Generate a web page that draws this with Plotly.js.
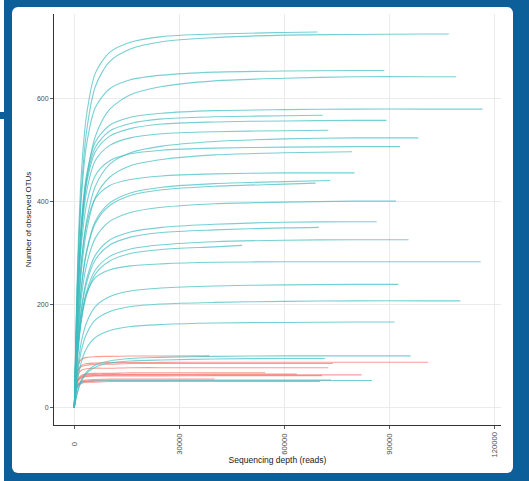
<!DOCTYPE html>
<html>
<head>
<meta charset="utf-8">
<script src="https://cdn.plot.ly/plotly-3.0.1.min.js"></script>
<style>
  html, body { margin: 0; padding: 0; width: 529px; height: 481px; overflow: hidden; background: #ffffff; }
  #frame { position: absolute; left: 4px; top: 0; width: 525px; height: 481px; background: #0d5f9a; }
  #inner { position: absolute; left: 12px; top: 7px; width: 501px; height: 466px; background: #ffffff; border-radius: 6px; }
  #stub { position: absolute; left: 0; top: 112px; width: 5px; height: 7px; background: #0d5f9a; }
  #chart { position: absolute; left: 0; top: 0; width: 529px; height: 481px; }
</style>
</head>
<body>
<div id="frame"></div>
<div id="inner"></div>
<div id="stub"></div>
<div id="chart"></div>
<script>
// Sequencing depths at which each rarefaction curve was read
const depthGrid = [0, 500, 1000, 2000, 3500, 6000, 10000, 16000, 25000, 40000, 60000, 80000, 100000];

// Teal group: maximum depth of each sample (reads)
const tealEnds = [69400, 106900, 88500, 109000, 116500, 70900, 89100, 72500, 98200, 93000,
                  79300, 80000, 73000, 68900, 91800, 86300, 69800, 95400, 47900, 116000,
                  92500, 110200, 91400, 96000, 71500, 85000];
// Teal group: observed OTUs at depthGrid points below the end, last value at the end depth
const tealOTUs = [
  [0,161,292,453,569,650,690,710,721,726,729,730],
  [0,145,269,421,537,624,672,697,711,719,724,725,726,726],
  [0,144,262,406,511,583,619,637,646,652,654,655,655],
  [0,116,212,341,444,527,579,608,624,635,640,643,643,643],
  [0,128,232,360,452,516,548,564,572,577,579,580,580,580],
  [0,125,227,352,443,506,537,552,561,565,567,568],
  [0,123,223,346,435,497,527,542,551,555,557,558,558],
  [0,119,216,334,420,480,509,524,532,536,538,539],
  [0,94,173,278,362,430,472,495,508,517,522,524,524],
  [0,112,203,314,395,451,479,493,500,504,506,507,507],
  [0,89,164,263,343,408,447,470,482,491,495,497],
  [0,100,182,283,356,406,431,443,450,454,456,456],
  [0,79,146,234,304,362,397,417,428,435,439,441],
  [0,78,144,231,301,358,392,412,423,430,434,436],
  [0,72,132,213,277,329,361,379,389,396,399,401,401],
  [0,65,119,191,249,296,325,341,350,356,360,361,361],
  [0,63,116,186,242,287,315,331,340,345,349,350],
  [0,59,108,173,225,267,293,308,316,322,325,326,326],
  [0,57,104,167,218,259,284,299,307,312,315],
  [0,62,113,175,221,252,267,275,279,282,283,283,283,283],
  [0,43,79,127,165,196,215,226,232,236,238,239,239],
  [0,37,68,110,143,170,186,196,201,204,206,207,207,207],
  [0,30,55,88,115,136,149,157,161,164,165,166,166],
  [0,18,33,53,69,82,90,95,97,99,100,100,100],
  [0,17,31,50,66,78,86,90,92,94,95,95],
  [0,32,43,48,50,51,52,52,52,52,52,52,52]
];

// Red group
const redEnds = [38600, 101000, 73800, 72500, 54500, 63500, 70700, 82000, 40000, 73300, 70100];
const redOTUs = [
  [0,62,82,93,97,98.5,99,99.6,99.8,100],
  [0,54,72,81,85,86,87,87,87.3,87.5,87.5,87.5,87.5,87.5],
  [0,53,70,79,82,84,84,85,85,85,85,85],
  [0,48,63,72,75,76,76,77,77,77,77,77],
  [0,42,55,62,65,66,66,67,67,67,67],
  [0,40,53,60,63,64,64,64,64,64.5,64.5,64.5],
  [0,38,50,57,60,61,61,61,61,61.5,61.5,61.5],
  [0,39,52,59,61,62,62.5,63,63,63,63,63,63],
  [0,34,45,51,53,54,55,55,55,55],
  [0,33,43,49,51,52,53,53,53,53,53,53],
  [0,31,41,46,48.5,49,50,50,50,50,50,50]
];

const xTickVals = [0, 30000, 60000, 90000, 120000];
const xTickText = ['0\u2007\u2007\u2009', '30000\u2009', '60000\u2009', '90000\u2009', '120000'];
const yTickVals = [0, 200, 400, 600];
const yTickText = ['0', '200', '400', '600'];

function curve(vals, end, color, op) {
  const n = vals.length - 1;
  return {
    type: 'scatter', mode: 'lines',
    x: depthGrid.slice(0, n).concat([end]),
    y: vals,
    line: { color: color, width: 1.1, shape: 'spline', smoothing: 0.8 },
    opacity: op,
    hoverinfo: 'skip', showlegend: false
  };
}

const traces = [];
redOTUs.forEach((v, i) => traces.push(curve(v, redEnds[i], '#F8766D', 0.72)));
tealOTUs.forEach((v, i) => traces.push(curve(v, tealEnds[i], '#3dbcc0', 0.7)));

const layout = {
  width: 529, height: 481,
  margin: { l: 54, r: 28, t: 14, b: 56 },
  paper_bgcolor: 'rgba(0,0,0,0)',
  plot_bgcolor: 'rgba(0,0,0,0)',
  showlegend: false,
  hovermode: false,
  font: { family: 'Liberation Sans, Arial, sans-serif', color: '#4d4d4d' },
  xaxis: {
    range: [-5800, 121800],
    tickvals: xTickVals, ticktext: xTickText,
    tickangle: -90,
    tickfont: { size: 7.6, color: '#4d4d4d' },
    ticks: 'outside', ticklen: 3, tickcolor: '#333333', tickwidth: 0.8,
    showline: true, linecolor: '#333333', linewidth: 1,
    showgrid: true, gridcolor: '#ebebeb', gridwidth: 1,
    zeroline: false,
    title: { text: 'Sequencing depth (reads)', font: { size: 8.5, color: '#1a1a1a' }, standoff: 0 }
  },
  yaxis: {
    range: [-34.5, 765],
    tickvals: yTickVals, ticktext: yTickText,
    tickfont: { size: 7, color: '#4d4d4d' },
    ticks: 'outside', ticklen: 3, tickcolor: '#333333', tickwidth: 0.8,
    showline: true, linecolor: '#333333', linewidth: 1,
    showgrid: true, gridcolor: '#ebebeb', gridwidth: 1,
    zeroline: false,
    title: { text: 'Number of observed OTUs', font: { size: 8, color: '#1a1a1a' }, standoff: 4 }
  }
};

Plotly.newPlot('chart', traces, layout, { displayModeBar: false, staticPlot: true });
</script>
</body>
</html>
